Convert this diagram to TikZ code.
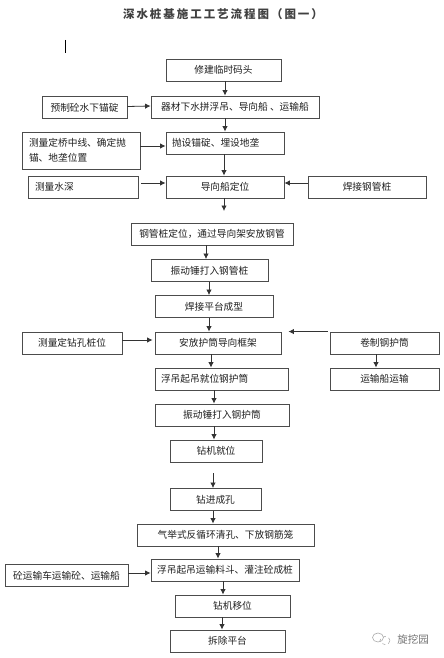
\documentclass[tikz,border=0pt]{standalone}
\usepackage{fontspec}
\setmainfont{Noto Sans CJK SC}
\usepackage{tikz}
\usetikzlibrary{arrows.meta}

\definecolor{inkgray}{gray}{0.3}
\tikzset{
    box/.style={draw=inkgray,line width=0.9pt,minimum height=22pt,inner sep=0pt,text=black!88,font=\fontsize{9.7pt}{15pt}\selectfont},
    flow/.style={-{Latex[length=5.5pt,width=5.5pt]},line width=0.8pt,draw=black!80},
}

\begin{document}
\begin{tikzpicture}[x=1pt,y=-1pt]
    \useasboundingbox (0,0) rectangle (444,658);
    \node[font=\bfseries\fontsize{11.5pt}{14pt}\selectfont,text=black!75,inner sep=0pt] (title) at (223,14) {\addfontfeature{LetterSpace=17}深水桩基施工工艺流程图（图一）};
    \draw[line width=1pt] (65,40) -- (65,53);

    % main column
    \node[box,minimum width=115pt] (dock) at (223.5,70) {修建临时码头};
    \node[box,minimum width=168pt] (raft) at (235,107) {器材下水拼浮吊、导向船 、运输船};
    \node[box,align=left,inner xsep=6pt,text width=106pt] (anchor) at (225,143) {抛设锚碇、埋设地垄};
    \node[box,minimum width=118pt] (locate) at (225,187) {导向船定位};
    \node[box,minimum width=162pt] (casing) at (212,234) {钢管桩定位，通过导向架安放钢管};
    \node[box,minimum width=117pt] (vibrate) at (209.5,270.5) {振动锤打入钢管桩};
    \node[box,minimum width=118pt] (platform) at (214,306.5) {焊接平台成型};
    \node[box,minimum width=126pt] (frame) at (218,343) {安放护筒导向框架};
    \node[box,align=left,inner xsep=6pt,text width=121pt] (lift) at (221.5,379) {浮吊起吊就位钢护筒};
    \node[box,minimum width=134pt] (drive) at (222,415) {振动锤打入钢护筒};
    \node[box,minimum width=92pt] (rig) at (216,451) {钻机就位};
    \node[box,minimum width=91pt] (bore) at (215.5,499.5) {钻进成孔};
    \node[box,minimum width=177pt] (airlift) at (225.5,535) {气举式反循环清孔、下放钢筋笼};
    \node[box,minimum width=148pt] (pour) at (225,570) {浮吊起吊运输料斗、灌注砼成桩};
    \node[box,minimum width=115pt] (move) at (232.5,606) {钻机移位};
    \node[box,minimum width=115pt] (remove) at (227.5,641) {拆除平台};

    % side boxes
    \node[box,minimum width=85pt] (sinker) at (84.5,107.5) {预制砼水下锚碇};
    \node[box,align=left,inner xsep=7pt,text width=104pt,minimum height=37pt] (survey) at (81,150.5) {测量定桥中线、确定抛\\锚、地垄位置};
    \node[box,align=left,inner xsep=7pt,text width=96pt] (depth) at (83,187) {测量水深};
    \node[box,minimum width=118pt] (weld) at (367,187) {焊接钢管桩};
    \node[box,minimum width=100pt] (hole) at (72,343) {测量定钻孔桩位};
    \node[box,minimum width=109pt] (roll) at (384.5,343) {卷制钢护筒};
    \node[box,minimum width=109pt] (ship) at (384.5,379) {运输船运输};
    \node[box,minimum width=123pt] (truck) at (66.5,575.5) {砼运输车运输砼、运输船};

    \coordinate (locateend) at (224,211);
    \coordinate (rigend) at (213,473);

    \draw[flow] ([xshift=1.5]dock.south) -- ([xshift=-10]raft.north);
    \draw[flow] ([xshift=-10]raft.south) -- (anchor.north);
    \draw[flow] ([xshift=-1]anchor.south) -- ([xshift=-1]locate.north);
    \draw[flow] ([xshift=-1]locate.south) -- (locateend);
    \draw[flow] ([xshift=-6]casing.south) -- ([xshift=-3.5]vibrate.north);
    \draw[flow] ([xshift=-0.5]vibrate.south) -- ([xshift=-5]platform.north);
    \draw[flow] ([xshift=-5]platform.south) -- ([xshift=-9]frame.north);
    \draw[flow] ([xshift=-7]frame.south) -- ([xshift=-10.5]lift.north);
    \draw[flow] ([xshift=-7.5]lift.south) -- ([xshift=-8]drive.north);
    \draw[flow] ([xshift=-8]drive.south) -- ([xshift=-2]rig.north);
    \draw[flow] (rigend) -- ([xshift=-2.5]bore.north);
    \draw[flow] ([xshift=-2.5]bore.south) -- ([xshift=-12.5]airlift.north);
    \draw[flow] ([xshift=-7.5]airlift.south) -- ([xshift=-7]pour.north);
    \draw[flow] ([xshift=-2]pour.south) -- ([xshift=-9.5]move.north);
    \draw[flow] ([xshift=-10.5]move.south) -- ([xshift=-5.5]remove.north);

    \draw[flow] ([yshift=1]sinker.east) -- ([yshift=1]raft.west);
    \draw[flow] ([yshift=4.5]survey.east) -- ([yshift=-3]anchor.west);
    \draw[flow] ([xshift=3,yshift=4]depth.east) -- ([yshift=4]locate.west);
    \draw[flow] ([yshift=4]weld.west) -- ([yshift=4]locate.east);
    \draw[flow] ([yshift=3]hole.east) -- ([xshift=-2,yshift=3]frame.west);
    \draw[flow] ([xshift=-2]roll.north west) -- ([xshift=7]frame.north east);
    \draw[flow] ([xshift=-8.5]roll.south) -- ([xshift=-8.5]ship.north);
    \draw[flow] ([yshift=2.5]truck.east) -- ([yshift=-3]pour.west);

    % mark in the corner
    \draw[black!35,line width=0.6pt] (378,637.5) ellipse (5.5pt and 4.5pt);
    \draw[black!35,line width=0.6pt,dashed] (385,640.5) ellipse (5pt and 4pt);
    \node[text=black!55,inner sep=0pt,font=\fontsize{10.5pt}{12pt}\selectfont] (mark) at (413,639) {旋挖园};
\end{tikzpicture}
\end{document}
